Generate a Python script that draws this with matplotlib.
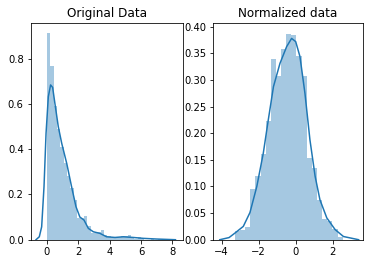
import numpy as np
import matplotlib
matplotlib.use("Agg")
import matplotlib.pyplot as plt

# ---- Left panel: original data histogram (density) ----
orig_start = 0.0
orig_width = 0.2143
orig_heights = [0.913, 0.768, 0.59, 0.49, 0.41, 0.34, 0.28, 0.23, 0.175, 0.094,
                0.094, 0.105, 0.06, 0.03, 0.03, 0.035, 0.043, 0.02, 0.015, 0.01,
                0.01, 0.01, 0.015, 0.015, 0.022, 0.01, 0.005, 0.01, 0.005, 0.0,
                0.0, 0.005, 0.0, 0.005, 0.005]
orig_kde_x = [-0.70, -0.49, -0.34, -0.19, -0.06, 0.085, 0.23, 0.36, 0.51, 0.72,
              0.94, 1.26, 1.57, 1.85, 2.1, 2.36, 2.64, 2.96, 3.38, 3.8,
              4.34, 4.87, 5.5, 6.15, 7.0, 8.2]
orig_kde_y = [0.0, 0.013, 0.057, 0.234, 0.47, 0.632, 0.684, 0.673, 0.60, 0.50,
              0.426, 0.337, 0.234, 0.146, 0.10, 0.087, 0.05, 0.035, 0.028, 0.013,
              0.01, 0.013, 0.01, 0.006, 0.003, 0.0]

# ---- Right panel: normalized data ----
norm_start = -3.28
norm_width = 0.277
norm_heights = [0.017, 0.018, 0.024, 0.095, 0.119, 0.161, 0.222, 0.339, 0.307, 0.359,
                0.387, 0.384, 0.345, 0.307, 0.154, 0.134, 0.075, 0.039, 0.036, 0.02,
                0.005]
norm_kde_x = [-4.1, -3.6, -3.28, -2.83, -2.47, -2.1, -1.75, -1.48, -1.2, -0.85,
              -0.49, -0.22, 0.0, 0.23, 0.5, 0.77, 1.05, 1.31, 1.68, 2.13,
              2.58, 3.4]
norm_kde_y = [0.0, 0.004, 0.0125, 0.025, 0.051, 0.10, 0.1625, 0.225, 0.2875, 0.331,
              0.3625, 0.378, 0.372, 0.344, 0.275, 0.1875, 0.119, 0.075, 0.041, 0.019,
              0.006, 0.0]

titles = ["Original Data", "Normalized data"]

fig = plt.figure(figsize=(372/72, 264/72), dpi=72)
ax0 = fig.add_axes([0.0825, 0.092, 0.4086, 0.822])
ax1 = fig.add_axes([0.5734, 0.092, 0.4016, 0.822])

c = "#1f77b4"

def draw(ax, start, width, heights, kx, ky):
    edges = start + width * np.arange(len(heights))
    ax.bar(edges, heights, width=width, align="edge", color=c, alpha=0.4,
           linewidth=0)
    ax.plot(kx, ky, color=c, lw=1.5)

draw(ax0, orig_start, orig_width, orig_heights, orig_kde_x, orig_kde_y)
draw(ax1, norm_start, norm_width, norm_heights, norm_kde_x, norm_kde_y)

ax0.set_xlim(-1.04, 8.66)
ax0.set_ylim(0, 0.959)
ax0.set_xticks([0, 2, 4, 6, 8])
ax0.set_yticks([0.0, 0.2, 0.4, 0.6, 0.8])
ax0.set_title(titles[0])

ax1.set_xlim(-4.45, 3.62)
ax1.set_ylim(0, 0.4075)
ax1.set_xticks([-4, -2, 0, 2])
ax1.set_yticks([0.0, 0.05, 0.10, 0.15, 0.20, 0.25, 0.30, 0.35, 0.40])
ax1.set_yticklabels(["0.00", "0.05", "0.10", "0.15", "0.20", "0.25", "0.30", "0.35", "0.40"])
ax1.set_title(titles[1])

fig.savefig("out.png", dpi=72)
